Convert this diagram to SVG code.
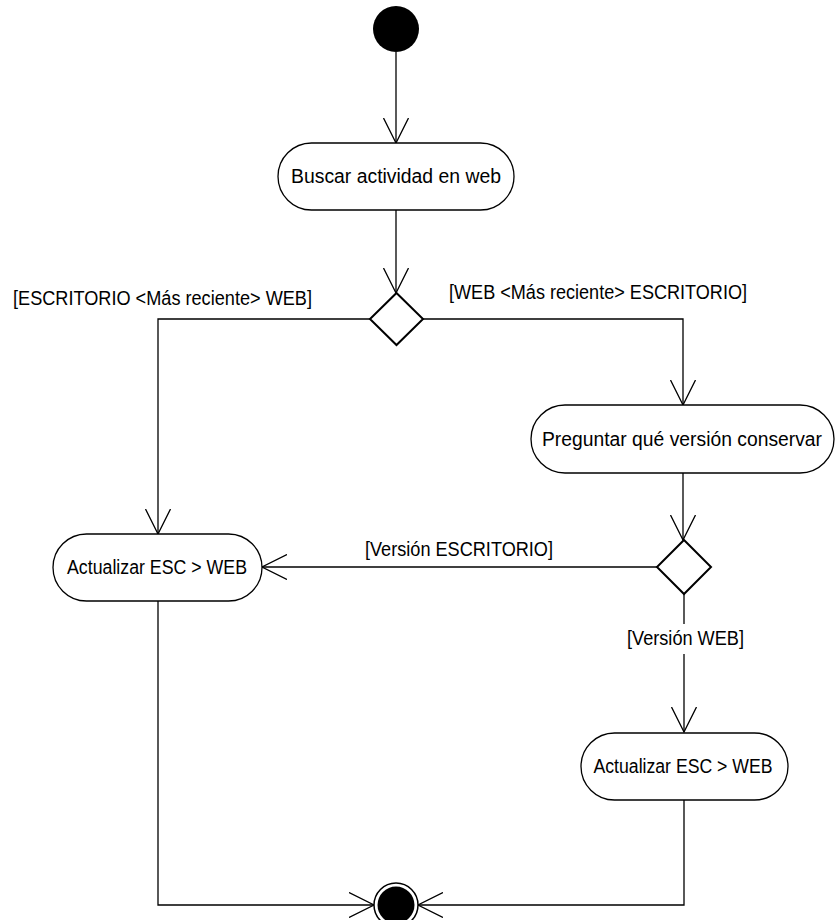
<svg xmlns="http://www.w3.org/2000/svg" width="835" height="920" viewBox="0 0 835 920">
  <defs>
    <style>
      .edge { fill: none; stroke: #000; stroke-width: 1.3; }
      .action { fill: #fff; stroke: #000; stroke-width: 1.3; }
      .decision { fill: #fff; stroke: #000; stroke-width: 2; }
      .label { font-family: "Liberation Sans", Arial, sans-serif; font-size: 19.5px; fill: #000; }
      .mid { text-anchor: middle; }
    </style>
    <marker id="open-arrow" viewBox="0 0 26 26" refX="25" refY="13" markerWidth="26" markerHeight="26" markerUnits="userSpaceOnUse" orient="auto">
      <path d="M0,0.5 L25,13 L0,25.5" fill="none" stroke="#000" stroke-width="1.3"/>
    </marker>
  </defs>
  <rect width="835" height="920" fill="#fff"/>

  <g id="connectors">
    <path class="edge" d="M396,52 V143" marker-end="url(#open-arrow)"/>
    <path class="edge" d="M396,210 V293" marker-end="url(#open-arrow)"/>
    <path class="edge" d="M370,319 H158 V534" marker-end="url(#open-arrow)"/>
    <path class="edge" d="M423,319 H683 V405" marker-end="url(#open-arrow)"/>
    <path class="edge" d="M683,473 V540" marker-end="url(#open-arrow)"/>
    <path class="edge" d="M657,567 H262" marker-end="url(#open-arrow)"/>
    <path class="edge" d="M684,594 V732" marker-end="url(#open-arrow)"/>
    <path class="edge" d="M158,601 V905 H374" marker-end="url(#open-arrow)"/>
    <path class="edge" d="M684,800 V905 H418" marker-end="url(#open-arrow)"/>
    <text class="label" x="13" y="305" textLength="299" lengthAdjust="spacingAndGlyphs">[ESCRITORIO &lt;Más reciente&gt; WEB]</text>
    <text class="label" x="449" y="299" textLength="298" lengthAdjust="spacingAndGlyphs">[WEB &lt;Más reciente&gt; ESCRITORIO]</text>
    <text class="label" x="365" y="556" textLength="188" lengthAdjust="spacingAndGlyphs">[Versión ESCRITORIO]</text>
    <!-- guard label sits on its own flow line, so it gets a white backing -->
    <rect x="623" y="624" width="124" height="30" fill="#fff"/>
    <text class="label" x="627" y="645" textLength="117" lengthAdjust="spacingAndGlyphs">[Versión WEB]</text>
  </g>

  <g id="start">
    <circle cx="396" cy="29" r="23" fill="#000"/>
  </g>

  <g id="buscar">
    <rect class="action" x="278" y="143" width="236" height="67" rx="33.5"/>
    <text class="label mid" x="396" y="183" textLength="210" lengthAdjust="spacingAndGlyphs">Buscar actividad en web</text>
  </g>

  <g id="decision-version">
    <polygon class="decision" points="396.5,293 423,319 396.5,345 370,319"/>
  </g>

  <g id="preguntar">
    <rect class="action" x="531" y="405" width="303" height="68" rx="34"/>
    <text class="label mid" x="682" y="446" textLength="280" lengthAdjust="spacingAndGlyphs">Preguntar qué versión conservar</text>
  </g>

  <g id="decision-eleccion">
    <polygon class="decision" points="684,540 711,567 684,594 657,567"/>
  </g>

  <g id="actualizar-escritorio">
    <rect class="action" x="53" y="534" width="209" height="67" rx="33.5"/>
    <text class="label mid" x="157" y="574" textLength="180" lengthAdjust="spacingAndGlyphs">Actualizar ESC &gt; WEB</text>
  </g>

  <g id="actualizar-web">
    <rect class="action" x="581" y="733" width="207" height="67" rx="33.5"/>
    <text class="label mid" x="683" y="773" textLength="179" lengthAdjust="spacingAndGlyphs">Actualizar ESC &gt; WEB</text>
  </g>

  <g id="final">
    <circle cx="396" cy="905" r="22" fill="#fff" stroke="#000" stroke-width="1.5"/>
    <circle cx="396" cy="905" r="18.5" fill="#000"/>
  </g>
</svg>
